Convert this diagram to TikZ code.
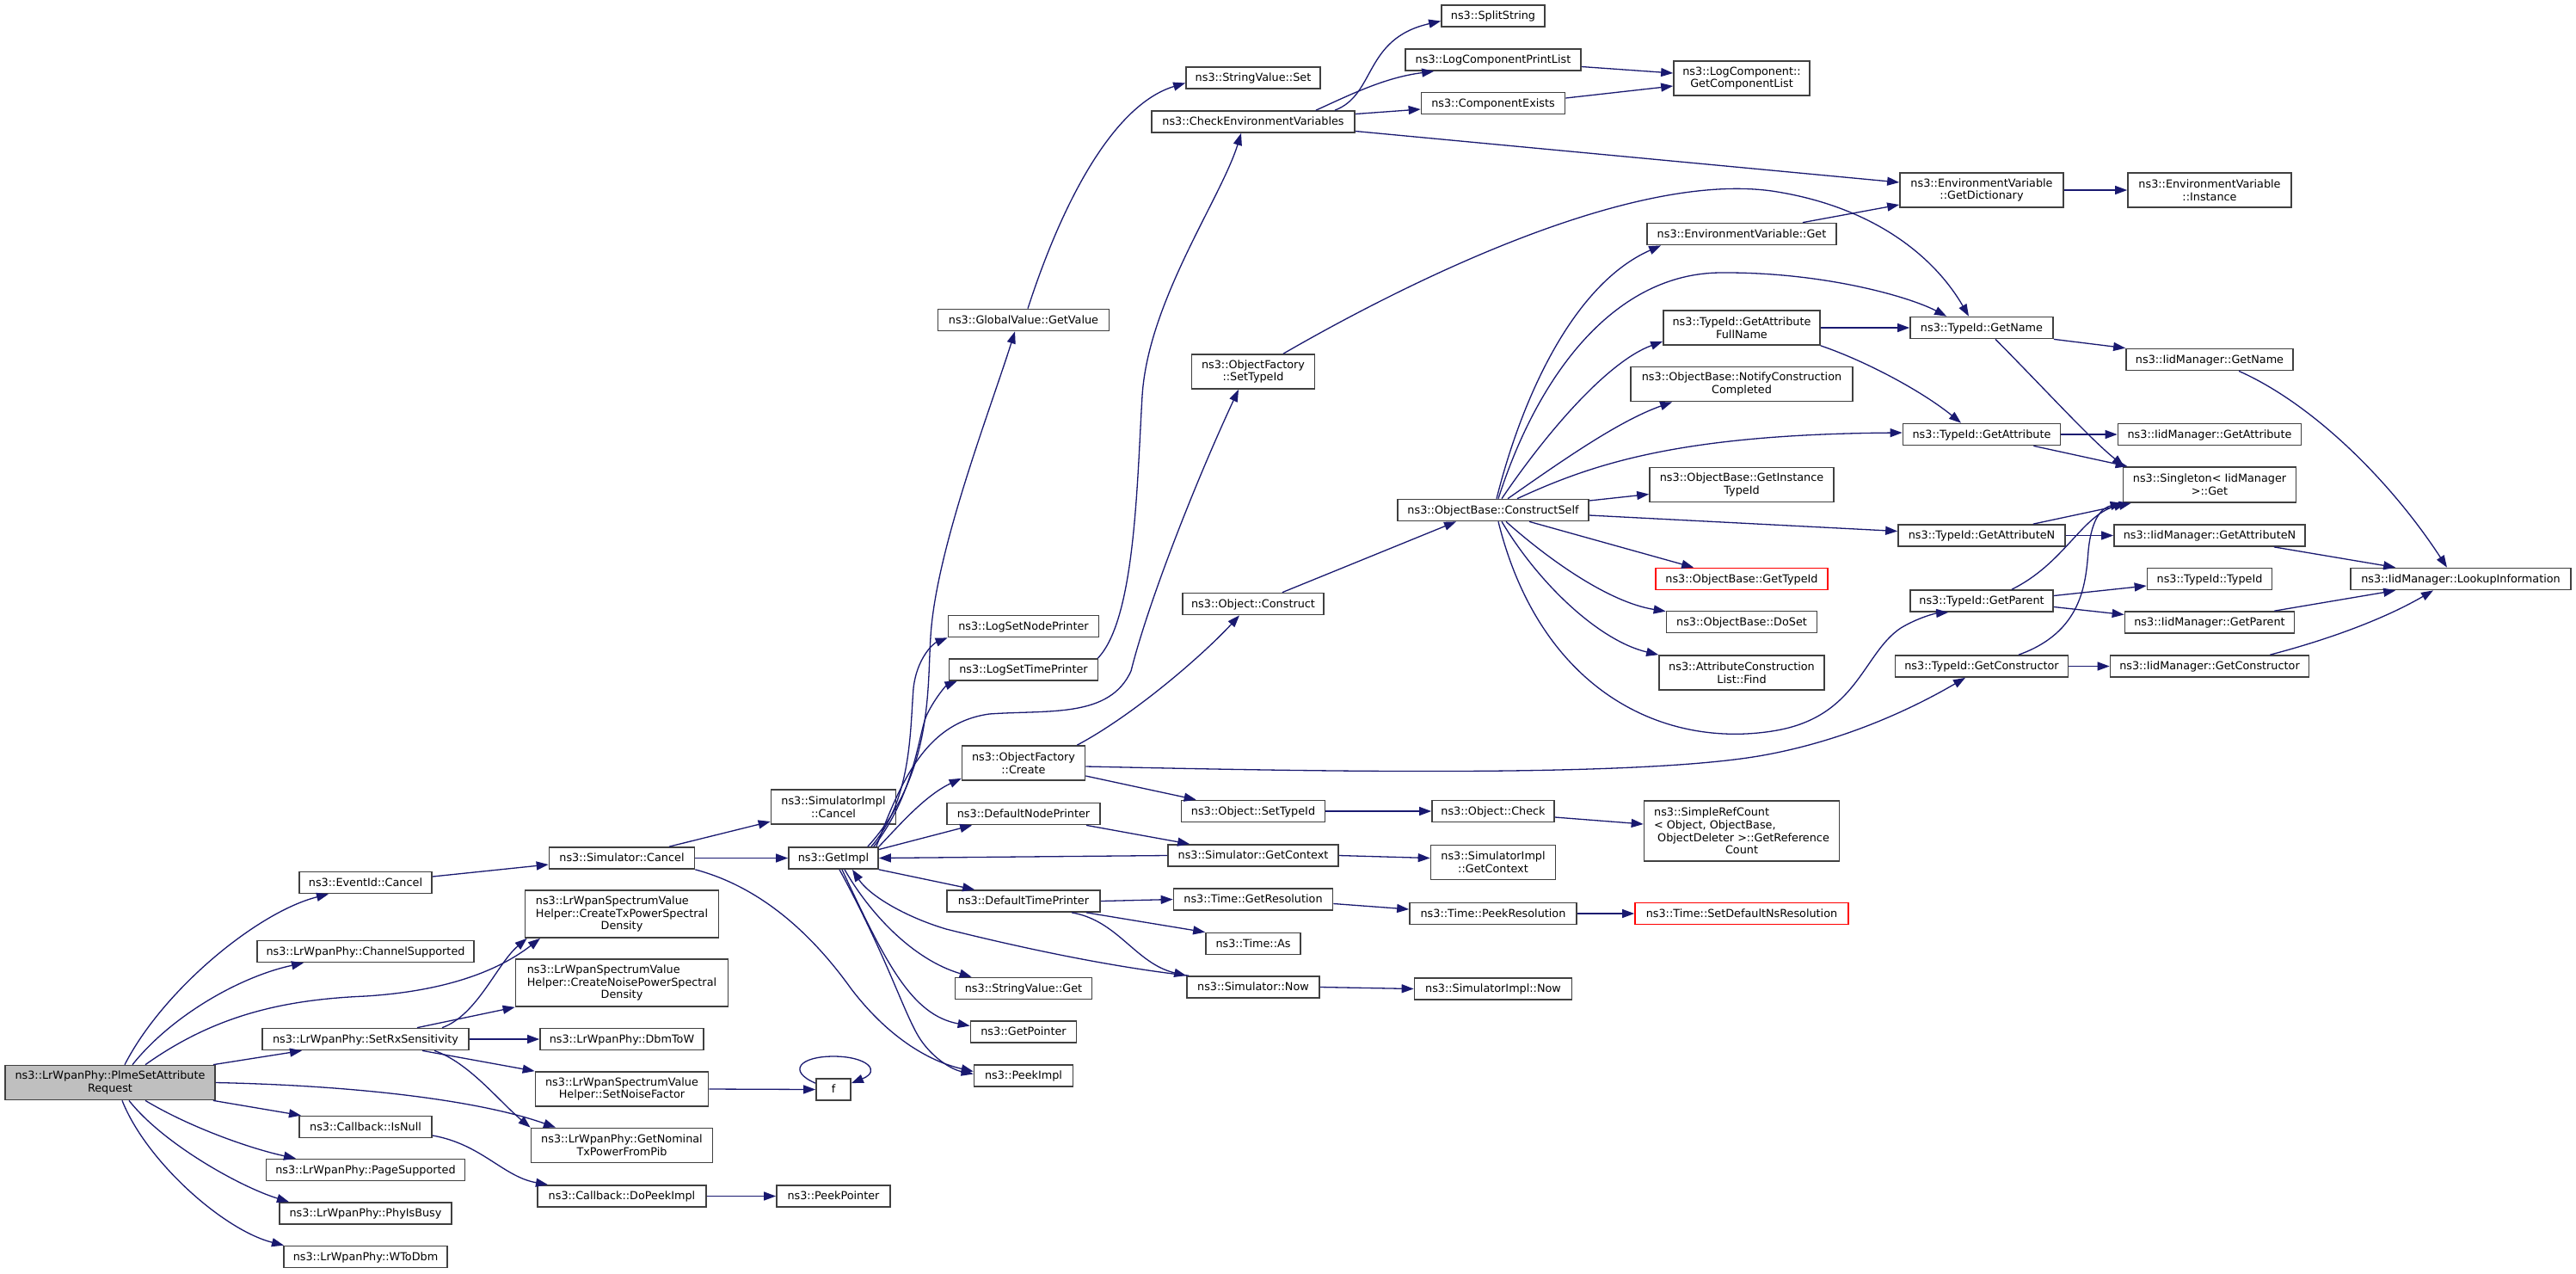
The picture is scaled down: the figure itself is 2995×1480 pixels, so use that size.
\documentclass[tikz,border=0pt]{standalone}
\usepackage{fontspec}
\setmainfont{DejaVu Sans}
\usetikzlibrary{arrows.meta,calc}
\definecolor{edgec}{HTML}{191970}
\definecolor{boxc}{HTML}{404040}
\definecolor{rootc}{HTML}{BFBFBF}
\newcommand\fsz{\fontsize{6.4}{7.4}\selectfont}
\tikzset{
 bx/.style={draw=boxc, line width=0.85pt, fill=white, inner sep=0pt, font=\fsz, align=center},
 sz/.style 2 args={minimum width=#1*0.5pt, minimum height=#2*0.5pt},
 sl/.style={text height=5.2pt, text depth=1.2pt},
 cl/.style={draw=edgec, line width=0.65pt, -{Triangle[length=7pt,width=5pt]}},
}
\begin{document}
\begin{tikzpicture}[x=0.5pt,y=-0.5pt]
\fill[white] (0,0) rectangle (2995,1480);
\useasboundingbox (0,0) rectangle (2995,1480);
% rank 0
\node[bx,sz={244}{40},fill=rootc] (p) at (128,1258.5) {ns3::LrWpanPhy::PlmeSetAttribute\\Request};
% rank 1
\node[bx,sl,sz={154}{25}] (evc) at (425,1026) {ns3::EventId::Cancel};
\node[bx,sl,sz={252}{25}] (chs) at (425,1106) {ns3::LrWpanPhy::ChannelSupported};
\node[bx,sl,sz={240}{25}] (srx) at (425,1208) {ns3::LrWpanPhy::SetRxSensitivity};
\node[bx,sl,sz={154}{25}] (isn) at (425,1310) {ns3::Callback::IsNull};
\node[bx,sl,sz={231}{25}] (pgs) at (425,1360) {ns3::LrWpanPhy::PageSupported};
\node[bx,sl,sz={200}{25}] (pib) at (425,1410.5) {ns3::LrWpanPhy::PhyIsBusy};
\node[bx,sl,sz={190}{25}] (wtd) at (425,1461) {ns3::LrWpanPhy::WToDbm};
% rank 2
\node[bx,sl,sz={169}{25}] (scan) at (723,997.5) {ns3::Simulator::Cancel};
\node[bx,sz={225}{55}] (ctx) at (723,1062.5) {\rlap{ns3::LrWpanSpectrumValue}\hphantom{Helper::CreateTxPowerSpectral}\\Helper::CreateTxPowerSpectral\\Density};
\node[bx,sz={247}{55}] (cnz) at (723,1142.5) {\rlap{ns3::LrWpanSpectrumValue}\hphantom{Helper::CreateNoisePowerSpectral}\\Helper::CreateNoisePowerSpectral\\Density};
\node[bx,sl,sz={190}{25}] (dbw) at (723,1208) {ns3::LrWpanPhy::DbmToW};
\node[bx,sz={201}{40}] (snf) at (723,1266) {ns3::LrWpanSpectrumValue\\Helper::SetNoiseFactor};
\node[bx,sz={211}{40}] (gnt) at (723,1331.5) {ns3::LrWpanPhy::GetNominal\\TxPowerFromPib};
\node[bx,sl,sz={196}{25}] (dpi) at (723,1390.5) {ns3::Callback::DoPeekImpl};
% rank 3
\node[bx,sz={145}{40}] (sic) at (969,938) {ns3::SimulatorImpl\\::Cancel};
\node[bx,sl,sz={104}{25}] (gim) at (969,997.5) {ns3::GetImpl};
\node[bx,sl,sz={40}{25}] (ff) at (969,1266.5) {f};
\node[bx,sl,sz={132}{25}] (ppt) at (969,1390.5) {ns3::PeekPointer};
% rank 4
\node[bx,sl,sz={199}{25}] (ggv) at (1190,372) {ns3::GlobalValue::GetValue};
\node[bx,sl,sz={175}{25}] (lsn) at (1190,728) {ns3::LogSetNodePrinter};
\node[bx,sl,sz={173}{25}] (lst) at (1190,778.5) {ns3::LogSetTimePrinter};
\node[bx,sz={143}{40}] (ofc) at (1190,887) {ns3::ObjectFactory\\::Create};
\node[bx,sl,sz={178}{25}] (dnp) at (1190,946) {ns3::DefaultNodePrinter};
\node[bx,sl,sz={178}{25}] (dtp) at (1190,1047.5) {ns3::DefaultTimePrinter};
\node[bx,sl,sz={159}{25}] (svg) at (1190,1149) {ns3::StringValue::Get};
\node[bx,sl,sz={123}{25}] (gpt) at (1190,1199.5) {ns3::GetPointer};
\node[bx,sl,sz={115}{25}] (pki) at (1190,1250.5) {ns3::PeekImpl};
% rank 5
\node[bx,sl,sz={156}{25}] (svs) at (1457,90.5) {ns3::StringValue::Set};
\node[bx,sl,sz={236}{25}] (cev) at (1457,141.5) {ns3::CheckEnvironmentVariables};
\node[bx,sz={143}{40}] (ost) at (1457,432) {ns3::ObjectFactory\\::SetTypeId};
\node[bx,sl,sz={164}{25}] (ocn) at (1457,702) {ns3::Object::Construct};
\node[bx,sl,sz={167}{25}] (osti) at (1457,943) {ns3::Object::SetTypeId};
\node[bx,sl,sz={198}{25}] (sgc) at (1457,994.5) {ns3::Simulator::GetContext};
\node[bx,sl,sz={185}{25}] (tgr) at (1457,1045.5) {ns3::Time::GetResolution};
\node[bx,sl,sz={110}{25}] (tas) at (1457,1097) {ns3::Time::As};
\node[bx,sl,sz={154}{25}] (snow) at (1457,1147.5) {ns3::Simulator::Now};
% rank 6
\node[bx,sl,sz={120}{25}] (spl) at (1736,18.5) {ns3::SplitString};
\node[bx,sl,sz={204}{25}] (lcp) at (1736,69.5) {ns3::LogComponentPrintList};
\node[bx,sl,sz={167}{25}] (cex) at (1736,120) {ns3::ComponentExists};
\node[bx,sl,sz={222}{25}] (cself) at (1736,593) {ns3::ObjectBase::ConstructSelf};
\node[bx,sl,sz={142}{25}] (och) at (1736,943) {ns3::Object::Check};
\node[bx,sz={145}{40}] (sigc) at (1736,1002.5) {ns3::SimulatorImpl\\::GetContext};
\node[bx,sl,sz={194}{25}] (tpr) at (1736,1062) {ns3::Time::PeekResolution};
\node[bx,sl,sz={183}{25}] (sinow) at (1736,1149.5) {ns3::SimulatorImpl::Now};
% rank 7
\node[bx,sz={158}{40}] (gcl) at (2025,91) {ns3::LogComponent::\\GetComponentList};
\node[bx,sl,sz={220}{25}] (evg) at (2025,272) {ns3::EnvironmentVariable::Get};
\node[bx,sz={182}{40}] (gafn) at (2025,381) {ns3::TypeId::GetAttribute\\FullName};
\node[bx,sz={258}{40}] (ncc) at (2025,446.5) {ns3::ObjectBase::NotifyConstruction\\Completed};
\node[bx,sz={214}{40}] (gitid) at (2025,563.5) {ns3::ObjectBase::GetInstance\\TypeId};
\node[bx,sl,sz={200}{25},draw=red] (obgt) at (2025,673) {ns3::ObjectBase::GetTypeId};
\node[bx,sl,sz={175}{25}] (dos) at (2025,723) {ns3::ObjectBase::DoSet};
\node[bx,sz={192}{40}] (acl) at (2025,782) {ns3::AttributeConstruction\\List::Find};
\node[bx,sz={227}{70}] (src) at (2025,966) {\rlap{ns3::SimpleRefCount}\hphantom{\hspace*{.318em}ObjectDeleter >::GetReference}\\\rlap{< Object, ObjectBase,}\hphantom{\hspace*{.318em}ObjectDeleter >::GetReference}\\\hspace*{.318em}ObjectDeleter >::GetReference\\Count};
\node[bx,sl,sz={248}{25},draw=red] (sdn) at (2025,1062) {ns3::Time::SetDefaultNsResolution};
% rank 8
\node[bx,sz={190}{40}] (evd) at (2304,221) {ns3::EnvironmentVariable\\::GetDictionary};
\node[bx,sl,sz={166}{25}] (tgn) at (2304,381) {ns3::TypeId::GetName};
\node[bx,sl,sz={183}{25}] (tga) at (2304,505) {ns3::TypeId::GetAttribute};
\node[bx,sl,sz={194}{25}] (tgan) at (2304,622.5) {ns3::TypeId::GetAttributeN};
\node[bx,sl,sz={166}{25}] (tgp) at (2304,698.5) {ns3::TypeId::GetParent};
\node[bx,sl,sz={201}{25}] (tgc) at (2304,774.5) {ns3::TypeId::GetConstructor};
% rank 9
\node[bx,sz={190}{40}] (evi) at (2569,221) {ns3::EnvironmentVariable\\::Instance};
\node[bx,sl,sz={194}{25}] (ign) at (2569,418) {ns3::IidManager::GetName};
\node[bx,sl,sz={213}{25}] (iga) at (2569,505) {ns3::IidManager::GetAttribute};
\node[bx,sz={201}{41}] (sgt) at (2569,563.5) {ns3::Singleton< IidManager\\>::Get};
\node[bx,sl,sz={222}{25}] (igan) at (2569,622.5) {ns3::IidManager::GetAttributeN};
\node[bx,sl,sz={145}{25}] (tid) at (2569,673) {ns3::TypeId::TypeId};
\node[bx,sl,sz={197}{25}] (igp) at (2569,723.5) {ns3::IidManager::GetParent};
\node[bx,sl,sz={231}{25}] (igc) at (2569,774.5) {ns3::IidManager::GetConstructor};
% rank 10
\node[bx,sl,sz={256}{25}] (lki) at (2861,673) {ns3::IidManager::LookupInformation};

% ---------- edges ----------
% from root
\draw[cl] ($(p.north)+(17,0)$) .. controls (190,1150) and (300,1060) .. ($(evc.south)+(-43,0)$);
\draw[cl] ($(p.north)+(26,0)$) .. controls (200,1180) and (280,1135) .. ($(chs.south)+(-72,0)$);
\draw[cl] ($(p.north)+(41,0)$) .. controls (250,1180) and (330,1162) .. (425,1158) .. controls (520,1152) and (580,1128) .. ($(ctx.south)+(-95,0)$);
\draw[cl] ($(p.north east)+(-3,0)$) -- ($(srx.south)+(-74,0)$);
\draw[cl] (p.east) .. controls (420,1262) and (560,1280) .. ($(gnt.north)+(-77,0)$);
\draw[cl] ($(p.south east)+(-3,0)$) -- ($(isn.north)+(-75,0)$);
\draw[cl] ($(p.south)+(41,0)$) .. controls (220,1310) and (290,1335) .. ($(pgs.north)+(-81,0)$);
\draw[cl] ($(p.south)+(22,0)$) .. controls (190,1330) and (280,1380) .. ($(pib.north)+(-89,0)$);
\draw[cl] ($(p.south)+(14,0)$) .. controls (170,1350) and (260,1430) .. ($(wtd.north)+(-95,0)$);
% rank 1
\draw[cl] ($(evc.east)+(0,-7)$) -- ($(scan.west)+(0,7.5)$);
\draw[cl] ($(srx.north)+(89,0)$) .. controls (555,1180) and (578,1120) .. ($(ctx.south west)+(3,0)$);
\draw[cl] ($(srx.north)+(60,0)$) -- (cnz.south west);
\draw[cl] (srx.east) -- (dbw.west);
\draw[cl] ($(srx.south)+(66,0)$) -- (snf.north west);
\draw[cl] ($(srx.south)+(80,0)$) .. controls (545,1235) and (580,1280) .. (gnt.north west);
\draw[cl] ($(isn.east)+(0,10)$) .. controls (560,1330) and (585,1368) .. ($(dpi.north)+(-86,0)$);
% rank 2
\draw[cl] ($(scan.north)+(55,0)$) -- ($(sic.west)+(0,17)$);
\draw[cl] (scan.east) -- (gim.west);
\draw[cl] (scan.south east) .. controls (880,1030) and (940,1080) .. (990,1150) .. controls (1040,1215) and (1090,1236) .. ($(pki.west)+(0,-5)$);
\draw[cl] (snf.east) -- (ff.west);
\draw[cl] ($(ff.north west)+(0,6)$) .. controls (915,1245) and (930,1228) .. (969,1228) .. controls (1008,1228) and (1025,1245) .. ($(ff.north east)+(0,6)$);
\draw[cl] (dpi.east) -- (ppt.west);
% rank 3
\draw[cl] ($(gim.north east)+(-13,0)$) .. controls (1085,900) and (1078,800) .. (1082,740) .. controls (1088,640) and (1150,480) .. ($(ggv.south)+(-10,0)$);
\draw[cl] ($(gim.north east)+(-9,0)$) .. controls (1060,930) and (1058,850) .. (1062,800) .. controls (1066,765) and (1085,748) .. (lsn.south west);
\draw[cl] ($(gim.north east)+(-6,0)$) .. controls (1065,920) and (1068,850) .. (1078,830) .. controls (1088,810) and (1100,797) .. ($(lst.south west)+(10,0)$);
\draw[cl] ($(gim.north east)+(-3,0)$) .. controls (1050,900) and (1080,840) .. (1150,830) .. controls (1220,825) and (1290,835) .. (1315,780) .. controls (1335,700) and (1390,560) .. ($(ost.south)+(-17,0)$);
\draw[cl] (gim.north east) .. controls (1045,960) and (1075,925) .. ($(ofc.south west)+(0,-3)$);
\draw[cl] ($(gim.east)+(0,-10)$) -- ($(dnp.south west)+(30,0)$);
\draw[cl] (sgc.west) -- (gim.east);
\draw[cl] (gim.south east) -- ($(dtp.north west)+(33,0)$);
\draw[cl] ($(gim.south)+(13,0)$) .. controls (1010,1060) and (1060,1115) .. ($(svg.north west)+(20,0)$);
\draw[cl] ($(gim.south)+(10,0)$) .. controls (1030,1120) and (1060,1180) .. ($(gpt.west)+(0,-7)$);
\draw[cl] ($(gim.south)+(7,0)$) .. controls (1030,1110) and (1050,1175) .. (1068,1205) .. controls (1082,1228) and (1105,1243) .. ($(pki.west)+(0,-2)$);
\draw[cl] ($(snow.north west)+(3,0)$) .. controls (1300,1125) and (1200,1105) .. (1100,1080) .. controls (1050,1065) and (1010,1040) .. ($(gim.south)+(22,0)$);
% rank 4
\draw[cl] ($(dnp.south)+(73,0)$) -- ($(sgc.north west)+(26,0)$);
\draw[cl] (dtp.east) -- (tgr.west);
\draw[cl] ($(dtp.south)+(73,0)$) -- (tas.north west);
\draw[cl] ($(dtp.south)+(56,0)$) .. controls (1300,1070) and (1320,1120) .. (snow.north west);
\draw[cl] ($(ggv.north)+(5,0)$) .. controls (1240,220) and (1300,120) .. ($(svs.west)+(0,6)$);
\draw[cl] ($(lst.north east)+(-1,0)$) .. controls (1320,720) and (1322,560) .. (1328,460) .. controls (1335,350) and (1420,230) .. ($(cev.south)+(-14,0)$);
\draw[cl] ($(ofc.north east)+(-10,0)$) .. controls (1320,830) and (1400,760) .. ($(ocn.south)+(-16,0)$);
\draw[cl] ($(ofc.east)+(0,15)$) -- ($(osti.north west)+(18,0)$);
\draw[cl] ($(ofc.east)+(0,4)$) .. controls (1500,896) and (1900,905) .. (2050,878) .. controls (2150,860) and (2230,820) .. ($(tgc.south)+(-19,0)$);
% rank 5
\draw[cl] ($(cev.north)+(95,0)$) .. controls (1600,110) and (1585,45) .. ($(spl.west)+(0,6)$);
\draw[cl] ($(cev.north)+(73,0)$) .. controls (1570,110) and (1610,90) .. ($(lcp.south west)+(34,0)$);
\draw[cl] ($(cev.east)+(0,-9)$) -- ($(cex.west)+(0,7)$);
\draw[cl] ($(cev.east)+(0,11)$) -- ($(evd.west)+(0,-9)$);
\draw[cl] ($(ost.north)+(35,0)$) .. controls (1650,320) and (1900,200) .. (2060,222) .. controls (2180,240) and (2250,300) .. ($(tgn.north)+(-15,0)$);
\draw[cl] ($(ocn.north east)+(-49,0)$) -- ($(cself.south)+(-43,0)$);
\draw[cl] (osti.east) -- (och.west);
\draw[cl] (sgc.east) -- ($(sigc.west)+(0,-5)$);
\draw[cl] ($(tgr.east)+(0,5)$) -- ($(tpr.west)+(0,-5)$);
\draw[cl] (snow.east) -- (sinow.west);
% rank 6
\draw[cl] ($(lcp.east)+(0,8)$) -- ($(gcl.west)+(0,-6)$);
\draw[cl] ($(cex.east)+(0,-6)$) -- ($(gcl.west)+(0,9)$);
\draw[cl] ($(cself.north)+(4,0)$) .. controls (1770,460) and (1830,330) .. ($(evg.south west)+(17,0)$);
\draw[cl] ($(cself.north)+(6,0)$) .. controls (1790,430) and (1880,318) .. (2000,317) .. controls (2120,316) and (2220,345) .. ($(tgn.north west)+(43,0)$);
\draw[cl] ($(cself.north)+(10,0)$) .. controls (1800,500) and (1870,420) .. ($(gafn.south west)+(0,-5)$);
\draw[cl] ($(cself.north)+(17,0)$) .. controls (1810,540) and (1880,490) .. ($(ncc.south west)+(49,0)$);
\draw[cl] ($(cself.north)+(28,0)$) .. controls (1850,540) and (1950,505) .. ($(tga.west)+(0,-2)$);
\draw[cl] ($(cself.east)+(0,-11)$) -- ($(gitid.west)+(0,11)$);
\draw[cl] ($(cself.east)+(0,6)$) -- ($(tgan.west)+(0,-5)$);
\draw[cl] ($(cself.south)+(42,0)$) -- ($(obgt.north west)+(45,0)$);
\draw[cl] ($(cself.south)+(15,0)$) .. controls (1800,650) and (1870,700) .. ($(dos.north west)+(0,1)$);
\draw[cl] ($(cself.south)+(10,0)$) .. controls (1790,680) and (1860,745) .. (acl.north west);
\draw[cl] ($(cself.south)+(6,0)$) .. controls (1790,800) and (1930,870) .. (2060,850) .. controls (2160,835) and (2165,760) .. (2210,730) .. controls (2230,718) and (2250,713) .. ($(tgp.south west)+(45,0)$);
\draw[cl] ($(och.east)+(0,7)$) -- ($(src.west)+(0,-8)$);
\draw[cl] (tpr.east) -- (sdn.west);
% rank 7
\draw[cl] ($(evg.north east)+(-40,0)$) -- ($(evd.west)+(0,17)$);
\draw[cl] (gafn.east) -- (tgn.west);
\draw[cl] (gafn.south east) .. controls (2170,420) and (2235,455) .. ($(tga.north)+(-24,0)$);
% rank 8
\draw[cl] (evd.east) -- (evi.west);
\draw[cl] (tgn.south east) -- (ign.north west);
\draw[cl] ($(tgn.south)+(16,0)$) .. controls (2380,455) and (2430,510) .. ($(sgt.north west)+(2,0)$);
\draw[cl] (tga.east) -- (iga.west);
\draw[cl] ($(tga.south east)+(-32,0)$) -- ($(sgt.north west)+(6,0)$);
\draw[cl] ($(tgan.north east)+(-38,0)$) -- ($(sgt.south west)+(10,0)$);
\draw[cl] (tgan.east) -- (igan.west);
\draw[cl] ($(tgp.north)+(35,0)$) .. controls (2400,655) and (2420,600) .. ($(sgt.south west)+(4,0)$);
\draw[cl] ($(tgp.east)+(0,-6)$) -- ($(tid.west)+(0,8)$);
\draw[cl] ($(tgp.east)+(0,7)$) -- ($(igp.west)+(0,-9)$);
\draw[cl] ($(tgc.north)+(43,0)$) .. controls (2420,735) and (2425,680) .. (2428,640) .. controls (2432,600) and (2445,590) .. (sgt.south west);
\draw[cl] (tgc.east) -- (igc.west);
% rank 9
\draw[cl] ($(ign.south)+(34,0)$) .. controls (2690,470) and (2780,560) .. ($(lki.north)+(-16,0)$);
\draw[cl] ($(igan.south east)+(-37,0)$) -- ($(lki.north west)+(53,0)$);
\draw[cl] ($(igp.north east)+(-24,0)$) -- ($(lki.south west)+(53,0)$);
\draw[cl] ($(igc.north east)+(-46,0)$) .. controls (2720,740) and (2780,715) .. ($(lki.south)+(-32,0)$);
\end{tikzpicture}
\end{document}
